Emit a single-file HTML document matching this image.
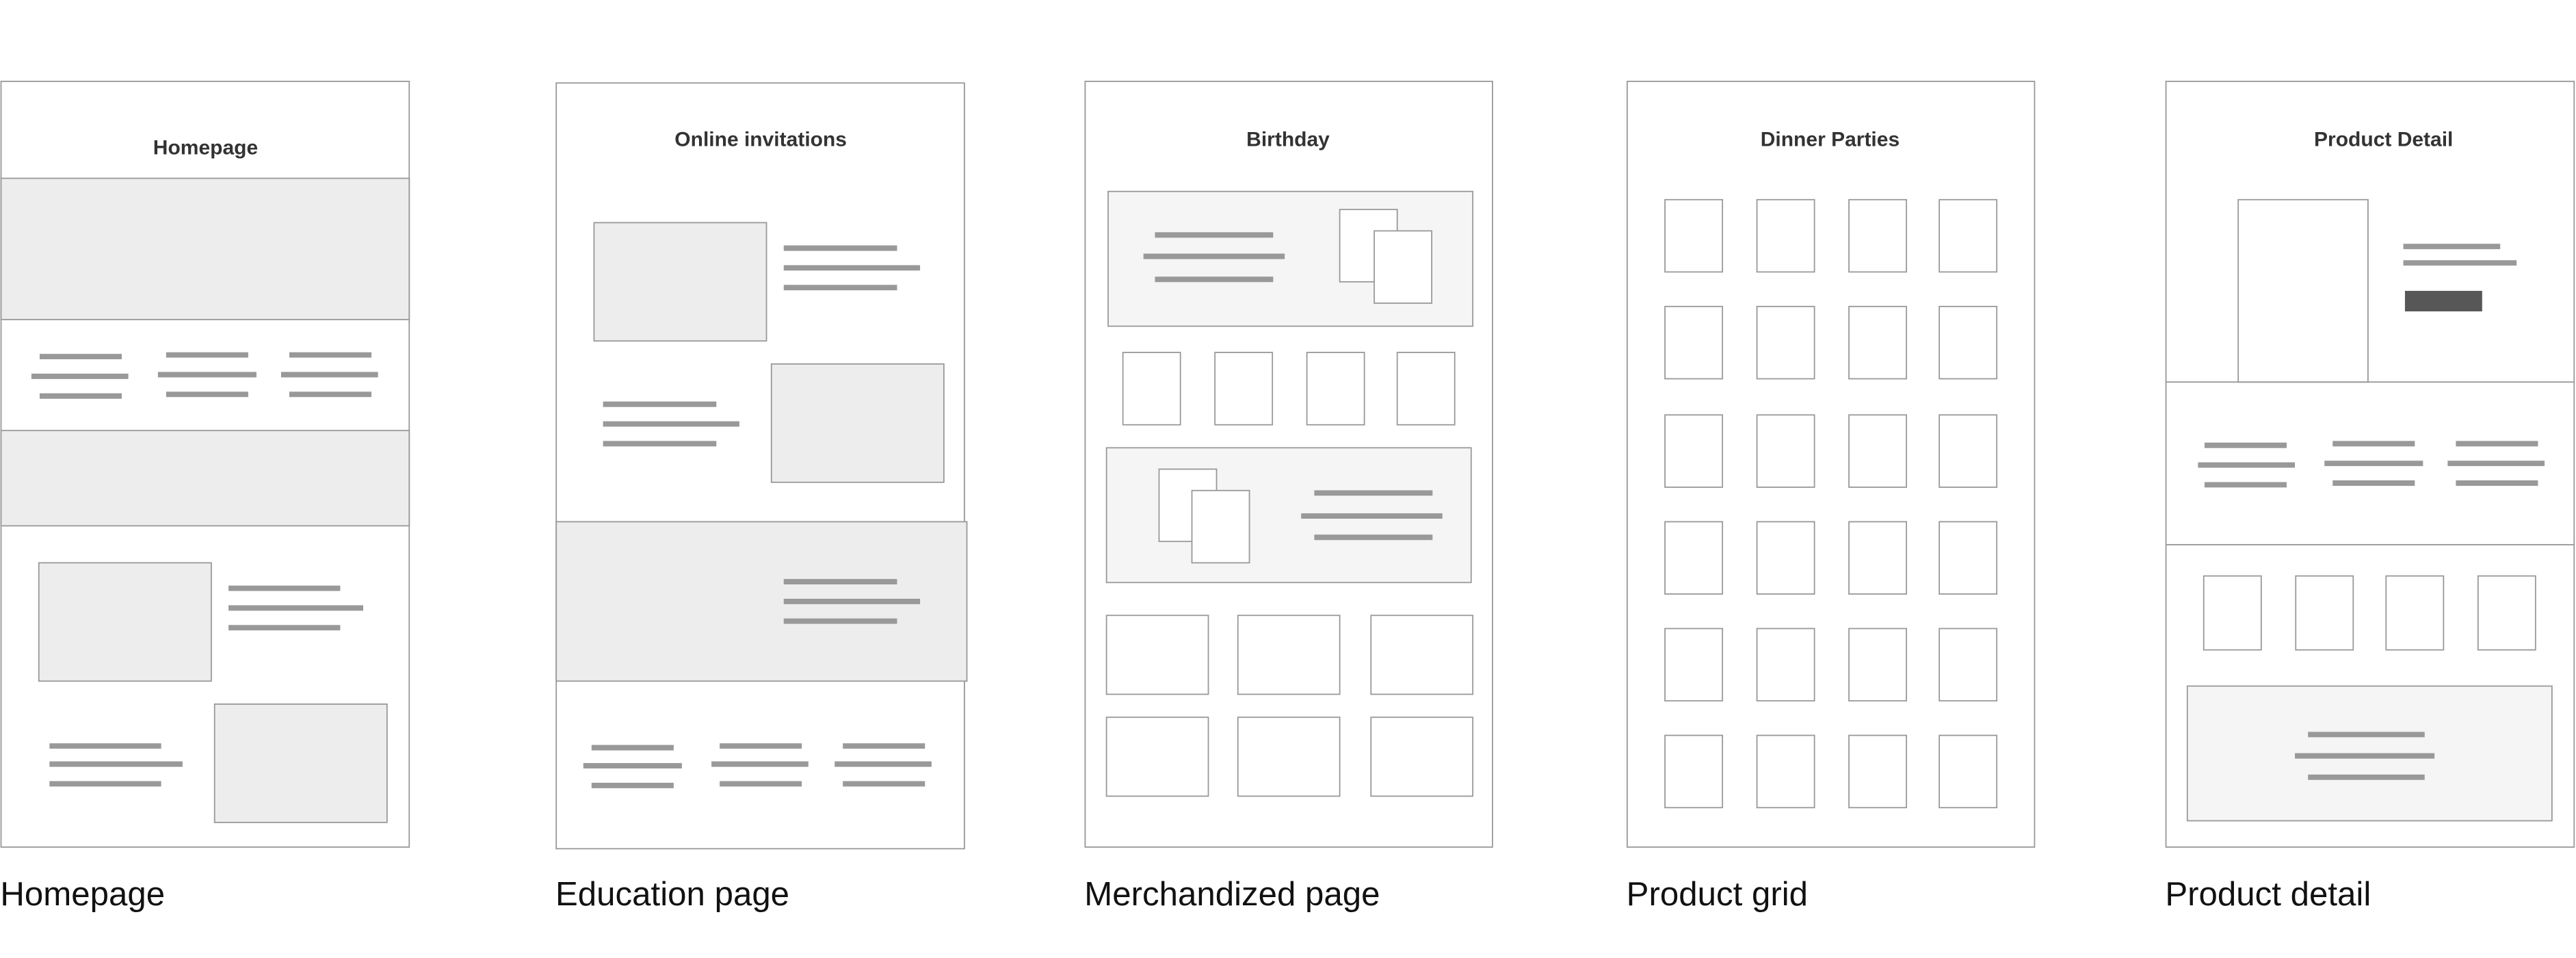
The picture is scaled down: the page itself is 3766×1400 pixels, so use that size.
<!DOCTYPE html>
<html><head><meta charset="utf-8"><style>
html,body{margin:0;padding:0;background:#fff;}
svg{display:block;}
.p{fill:#fff;stroke:#999;stroke-width:0.75;}
.g{fill:#ededed;stroke:#999;stroke-width:0.75;}
.l{fill:#f5f5f5;stroke:#999;stroke-width:0.75;}
.b{fill:#fff;stroke:#999;stroke-width:0.75;}
.ln{stroke:#999;stroke-width:3.3;}
.t{font-family:"Liberation Sans",sans-serif;font-weight:bold;font-size:12.5px;fill:#333;text-anchor:middle;}
.lab{font-family:"Liberation Sans",sans-serif;font-size:20.5px;fill:#111;}
</style></head><body>
<svg width="3766" height="1400" viewBox="0 0 1568 583" xmlns="http://www.w3.org/2000/svg">
<!-- Panel 1 Homepage -->
<rect class="p" x="0.5" y="49.5" width="248.5" height="466"/>
<text class="t" x="125" y="94">Homepage</text>
<rect class="g" x="0.5" y="108.5" width="248.5" height="86"/>
<rect class="g" x="0.5" y="262" width="248.5" height="58"/>
<g class="ln">
<line x1="24" y1="217" x2="74" y2="217"/><line x1="19" y1="229" x2="78" y2="229"/><line x1="24" y1="241" x2="74" y2="241"/>
<line x1="101" y1="216" x2="151" y2="216"/><line x1="96" y1="228" x2="156" y2="228"/><line x1="101" y1="240" x2="151" y2="240"/>
<line x1="176" y1="216" x2="226" y2="216"/><line x1="171" y1="228" x2="230" y2="228"/><line x1="176" y1="240" x2="226" y2="240"/>
<line x1="139" y1="358" x2="207" y2="358"/><line x1="139" y1="370" x2="221" y2="370"/><line x1="139" y1="382" x2="207" y2="382"/>
<line x1="30" y1="454" x2="98" y2="454"/><line x1="30" y1="465" x2="111" y2="465"/><line x1="30" y1="477" x2="98" y2="477"/>
</g>
<rect class="g" x="23.5" y="342.5" width="105" height="72"/>
<rect class="g" x="130.5" y="428.5" width="105" height="72"/>

<!-- Panel 2 Education -->
<rect class="p" x="338.5" y="50.5" width="248.5" height="466"/>
<text class="t" x="463" y="89">Online invitations</text>
<rect class="g" x="361.5" y="135.5" width="105" height="72"/>
<rect class="g" x="469.5" y="221.5" width="105" height="72"/>
<rect class="g" x="338.5" y="317.5" width="250" height="97"/>
<g class="ln">
<line x1="477" y1="151" x2="546" y2="151"/><line x1="477" y1="163" x2="560" y2="163"/><line x1="477" y1="175" x2="546" y2="175"/>
<line x1="367" y1="246" x2="436" y2="246"/><line x1="367" y1="258" x2="450" y2="258"/><line x1="367" y1="270" x2="436" y2="270"/>
<line x1="477" y1="354" x2="546" y2="354"/><line x1="477" y1="366" x2="560" y2="366"/><line x1="477" y1="378" x2="546" y2="378"/>
<line x1="360" y1="455" x2="410" y2="455"/><line x1="355" y1="466" x2="415" y2="466"/><line x1="360" y1="478" x2="410" y2="478"/>
<line x1="438" y1="454" x2="488" y2="454"/><line x1="433" y1="465" x2="492" y2="465"/><line x1="438" y1="477" x2="488" y2="477"/>
<line x1="513" y1="454" x2="563" y2="454"/><line x1="508" y1="465" x2="567" y2="465"/><line x1="513" y1="477" x2="563" y2="477"/>
</g>

<!-- Panel 3 Birthday -->
<rect class="p" x="660.5" y="49.5" width="248" height="466"/>
<text class="t" x="784" y="89">Birthday</text>
<rect class="l" x="674.5" y="116.5" width="222" height="82"/>
<g class="ln">
<line x1="703" y1="143" x2="775" y2="143"/><line x1="696" y1="156" x2="782" y2="156"/><line x1="703" y1="170" x2="775" y2="170"/>
</g>
<rect class="b" x="815.5" y="127.5" width="35" height="44"/>
<rect class="b" x="836.5" y="140.5" width="35" height="44"/>
<rect class="b" x="683.5" y="214.5" width="35" height="44"/>
<rect class="b" x="739.5" y="214.5" width="35" height="44"/>
<rect class="b" x="795.5" y="214.5" width="35" height="44"/>
<rect class="b" x="850.5" y="214.5" width="35" height="44"/>
<rect class="l" x="673.5" y="272.5" width="222" height="82"/>
<rect class="b" x="705.5" y="285.5" width="35" height="44"/>
<rect class="b" x="725.5" y="298.5" width="35" height="44"/>
<g class="ln">
<line x1="800" y1="300" x2="872" y2="300"/><line x1="792" y1="314" x2="878" y2="314"/><line x1="800" y1="327" x2="872" y2="327"/>
</g>
<rect class="b" x="673.5" y="374.5" width="62" height="48"/>
<rect class="b" x="753.5" y="374.5" width="62" height="48"/>
<rect class="b" x="834.5" y="374.5" width="62" height="48"/>
<rect class="b" x="673.5" y="436.5" width="62" height="48"/>
<rect class="b" x="753.5" y="436.5" width="62" height="48"/>
<rect class="b" x="834.5" y="436.5" width="62" height="48"/>

<!-- Panel 4 Dinner Parties -->
<rect class="p" x="990.5" y="49.5" width="248" height="466"/>
<text class="t" x="1114" y="89">Dinner Parties</text>
<g>
<rect class="b" x="1013.5" y="121.5" width="35" height="44"/><rect class="b" x="1069.5" y="121.5" width="35" height="44"/><rect class="b" x="1125.5" y="121.5" width="35" height="44"/><rect class="b" x="1180.5" y="121.5" width="35" height="44"/>
<rect class="b" x="1013.5" y="186.5" width="35" height="44"/><rect class="b" x="1069.5" y="186.5" width="35" height="44"/><rect class="b" x="1125.5" y="186.5" width="35" height="44"/><rect class="b" x="1180.5" y="186.5" width="35" height="44"/>
<rect class="b" x="1013.5" y="252.5" width="35" height="44"/><rect class="b" x="1069.5" y="252.5" width="35" height="44"/><rect class="b" x="1125.5" y="252.5" width="35" height="44"/><rect class="b" x="1180.5" y="252.5" width="35" height="44"/>
<rect class="b" x="1013.5" y="317.5" width="35" height="44"/><rect class="b" x="1069.5" y="317.5" width="35" height="44"/><rect class="b" x="1125.5" y="317.5" width="35" height="44"/><rect class="b" x="1180.5" y="317.5" width="35" height="44"/>
<rect class="b" x="1013.5" y="382.5" width="35" height="44"/><rect class="b" x="1069.5" y="382.5" width="35" height="44"/><rect class="b" x="1125.5" y="382.5" width="35" height="44"/><rect class="b" x="1180.5" y="382.5" width="35" height="44"/>
<rect class="b" x="1013.5" y="447.5" width="35" height="44"/><rect class="b" x="1069.5" y="447.5" width="35" height="44"/><rect class="b" x="1125.5" y="447.5" width="35" height="44"/><rect class="b" x="1180.5" y="447.5" width="35" height="44"/>
</g>

<!-- Panel 5 Product Detail -->
<rect class="p" x="1318.5" y="49.5" width="248.5" height="466"/>
<text class="t" x="1451" y="89">Product Detail</text>
<rect class="b" x="1362.5" y="121.5" width="79" height="111"/>
<line x1="1318.5" y1="232.5" x2="1567" y2="232.5" stroke="#999" stroke-width="0.75"/>
<line x1="1318.5" y1="331.5" x2="1567" y2="331.5" stroke="#999" stroke-width="0.75"/>
<g class="ln">
<line x1="1463" y1="150" x2="1522" y2="150"/><line x1="1463" y1="160" x2="1532" y2="160"/>
<line x1="1342" y1="271" x2="1392" y2="271"/><line x1="1338" y1="283" x2="1397" y2="283"/><line x1="1342" y1="295" x2="1392" y2="295"/>
<line x1="1420" y1="270" x2="1470" y2="270"/><line x1="1415" y1="282" x2="1475" y2="282"/><line x1="1420" y1="294" x2="1470" y2="294"/>
<line x1="1495" y1="270" x2="1545" y2="270"/><line x1="1490" y1="282" x2="1549" y2="282"/><line x1="1495" y1="294" x2="1545" y2="294"/>
</g>
<rect x="1464" y="177" width="47" height="12.5" fill="#575757"/>
<rect class="b" x="1341.5" y="350.5" width="35" height="45"/>
<rect class="b" x="1397.5" y="350.5" width="35" height="45"/>
<rect class="b" x="1452.5" y="350.5" width="35" height="45"/>
<rect class="b" x="1508.5" y="350.5" width="35" height="45"/>
<rect class="l" x="1331.5" y="417.5" width="222" height="82"/>
<g class="ln">
<line x1="1405" y1="447" x2="1476" y2="447"/><line x1="1397" y1="460" x2="1482" y2="460"/><line x1="1405" y1="473" x2="1476" y2="473"/>
</g>

<!-- Labels -->
<text class="lab" x="0" y="551">Homepage</text>
<text class="lab" x="338" y="551">Education page</text>
<text class="lab" x="660" y="551">Merchandized page</text>
<text class="lab" x="990" y="551">Product grid</text>
<text class="lab" x="1318" y="551">Product detail</text>
</svg>
</body></html>
